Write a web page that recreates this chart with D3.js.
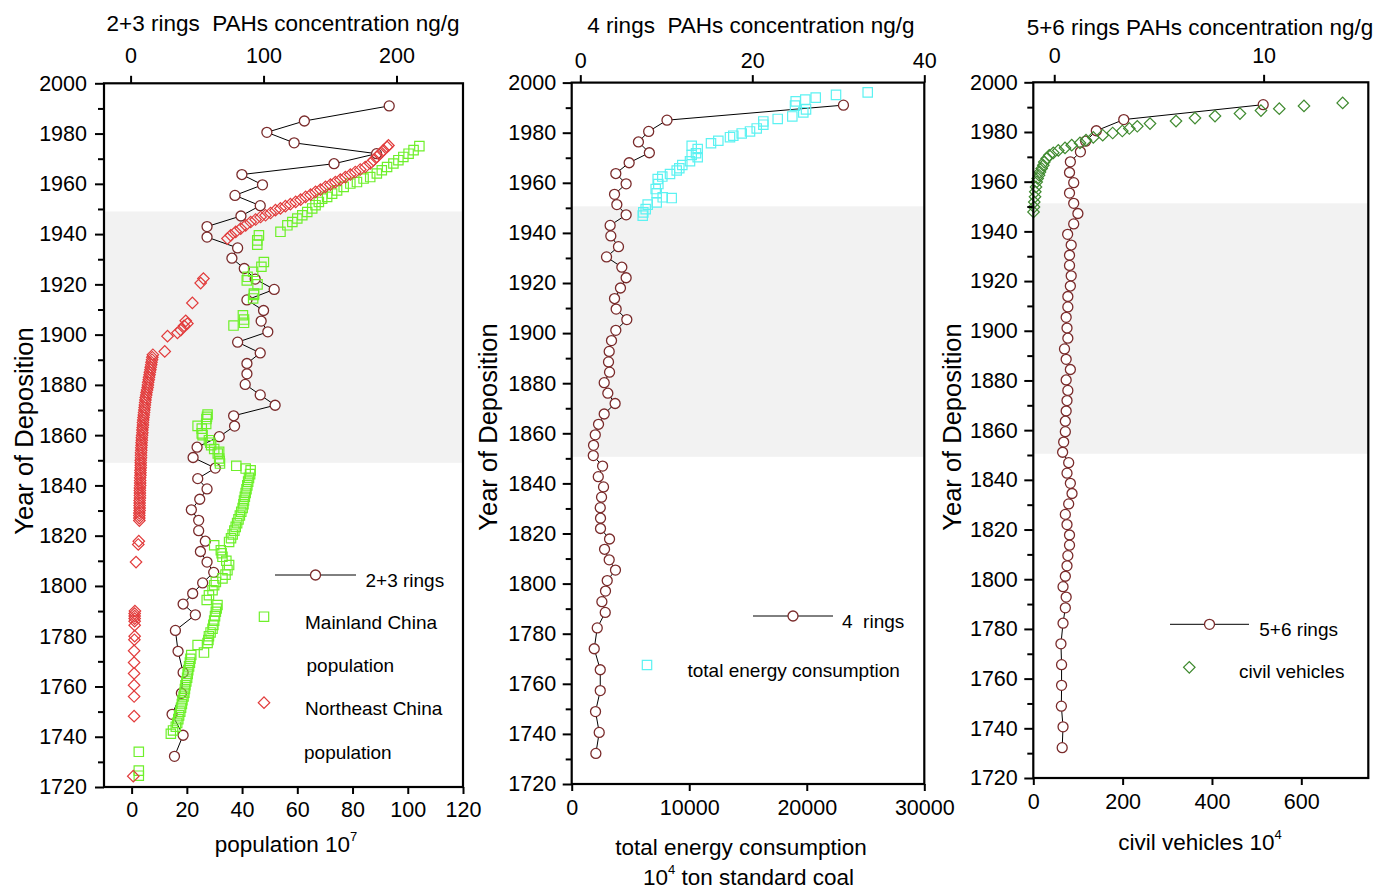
<!DOCTYPE html>
<html>
<head>
  <meta charset="utf-8">
  <title>PAHs profiles</title>
  <script src="https://d3js.org/d3.v7.min.js"></script>
  <style>
    body { margin: 0; background: #fff; }
    text { font-family: 'Liberation Sans', Arial, sans-serif; fill: #000; }
  </style>
</head>
<body>
<div id="vis"></div>
<script>
// deposition years of the core slices (same for the three panels)
var years = [1991, 1985, 1980.5, 1976.3, 1972, 1968, 1963.7, 1959.6, 1955.4, 1951.3,
  1947.2, 1943, 1938.8, 1934.5, 1930.4, 1926.3, 1922.1, 1918, 1913.8, 1909.6,
  1905.4, 1901.1, 1897, 1892.7, 1888.5, 1884.4, 1880.2, 1876, 1871.9, 1867.7,
  1863.6, 1859.4, 1855.2, 1851.1, 1846.9, 1842.7, 1838.6, 1834.5, 1830.3, 1826.1,
  1822, 1817.8, 1813.7, 1809.5, 1805.4, 1801.2, 1797, 1792.8, 1788.5, 1782.3,
  1774, 1765.6, 1757.3, 1748.9, 1740.6, 1732.2];

// PAHs concentration ng/g
var rings23 = [194.5, 130.7, 102.5, 123, 185, 153, 83.7, 99.2, 78.5, 97.5,
  83, 57.5, 57.5, 80.5, 76.2, 85.5, 93.7, 108, 87.5, 100,
  98.2, 103.2, 80.5, 97.5, 87.5, 87.5, 86.2, 97.5, 108.7, 77.5,
  78.2, 66.7, 50, 47, 63.7, 50.5, 57.5, 52, 45.7, 51.2,
  51.2, 56.2, 52.5, 57.5, 62.5, 54.2, 46.7, 39.5, 48.7, 33.7,
  35.7, 39.5, 38.2, 31.2, 39.5, 33];
var rings4 = [30.6, 10.08, 7.95, 6.76, 8.03, 5.68, 4.13, 5.33, 3.98, 4.25,
  5.33, 3.47, 3.55, 4.44, 3.05, 4.83, 5.33, 4.67, 3.98, 4.17,
  5.41, 4.13, 3.63, 3.36, 3.28, 3.40, 2.78, 3.2, 4.05, 2.78,
  2.12, 1.74, 1.54, 1.51, 2.59, 2.09, 2.70, 2.47, 2.32, 2.35,
  2.35, 3.40, 2.82, 3.36, 4.09, 3.13, 2.93, 2.51, 2.90, 1.97,
  1.62, 2.32, 2.32, 1.77, 2.20, 1.81];
var rings56 = [9.98, 3.32, 2.01, 1.5, 1.25, 0.77, 0.73, 0.93, 0.73, 0.93,
  1.13, 0.93, 0.64, 0.81, 0.73, 0.73, 0.81, 0.77, 0.65, 0.65,
  0.57, 0.61, 0.65, 0.49, 0.57, 0.77, 0.57, 0.65, 0.61, 0.57,
  0.53, 0.53, 0.45, 0.40, 0.69, 0.61, 0.77, 0.85, 0.69, 0.53,
  0.61, 0.73, 0.73, 0.65, 0.61, 0.53, 0.42, 0.57, 0.53, 0.42,
  0.32, 0.35, 0.35, 0.34, 0.42, 0.38];

// [year, population 10^7]
var mainlandPop = [[1724.5,2.6],[1726.5,2.6],[1734,2.6],
  [1741.2,14.2],[1742.5,15.0],[1744,16.0],[1745.5,16.5],[1747,16.9],[1748.5,17.2],[1750,17.6],
  [1751.5,17.9],[1753,18.2],[1754.5,18.4],[1756,18.8],[1757.5,19.1],[1759,19.3],[1760.5,19.5],
  [1762,19.8],[1763.5,20.1],[1765,20.3],[1766.5,20.5],[1768,20.8],[1769.5,21.1],[1771,21.3],[1772.5,21.6],
  [1773.5,26.2],[1776.5,23.9],[1777.3,27.5],[1778.5,27.8],[1780,28.0],[1781.5,28.6],[1783,29.3],
  [1784.5,29.6],[1786.2,29.9],[1788,30.2],[1789.7,30.5],[1791,30.8],[1792.4,31.1],
  [1794.4,27.2],[1796.3,28.0],[1798.3,29.3],[1800.3,29.9],[1801.6,30.5],[1803,32.9],[1804.5,34.0],
  [1806.3,34.7],[1808.3,35.3],[1810,34.3],[1811.6,32.9],[1813,32.6],[1814.2,32.3],[1816.2,29.9],
  [1817.5,35.3],[1819,36.0],[1820.5,36.6],[1822,37.2],[1823.5,37.7],[1825,38.2],[1826.5,38.7],
  [1828,39.2],[1829.5,39.7],[1831,40.2],[1832.5,40.5],[1834,40.7],[1835.5,41.0],[1837,41.3],
  [1838.5,41.6],[1840,41.9],[1841.5,42.2],[1843,42.5],[1844.5,42.9],[1846,43.1],[1846.7,41.3],[1847.8,37.9],
  [1848.7,32.0],[1849.7,31.9],[1850.7,31.7],[1852.7,31.2],[1853.4,31.7],[1854.5,29.9],[1856,28.8],
  [1857,28.5],[1858,28.0],[1860,25.7],[1860.7,25.4],[1862.6,25.4],[1863.7,23.9],[1864.5,27.0],
  [1866.4,27.1],[1867.3,27.3],[1868.2,27.5],
  [1903.6,36.9],[1904.7,40.7],[1906,40.7],[1907.7,40.3],[1914.4,44.0],[1915.8,44.3],[1916.3,44.3],
  [1920,45.6],[1921.6,41.7],[1923,42.0],[1925,44.0],[1927,47.0],[1928.9,47.9],[1935.8,45.5],
  [1937.5,45.5],[1939.5,46.1],
  [1940.9,53.9],[1943.5,56.4],[1944.8,58.2],[1946.2,60],[1947.5,61.8],[1948.8,63.6],[1950.2,65.4],
  [1951.5,66.6],[1952.8,67.8],[1954.1,69],[1954.8,70.8],[1956.1,72.6],[1957.4,74.4],[1958.8,76.8],
  [1960.1,79.2],[1960.7,81.6],[1962.1,84],[1962.7,86.4],[1964.1,88.8],[1965.4,90.6],[1966.7,92.5],
  [1968.1,94.8],[1969.4,96.6],[1970.7,98.4],[1972,100.3],[1973.4,102.1],[1975,104.2]];

var northeastPop = [[1724.3,0.6],[1748.2,0.9],[1756,0.9],[1760.5,0.9],[1765.2,0.9],[1769.5,0.9],
  [1774.2,0.9],[1778.6,1.0],[1780,1.1],[1784.4,1.1],[1786,1.1],[1787,1.1],[1788,1.1],[1789,1.1],
  [1790,1.2],[1809.5,1.6],[1816.5,2.4],[1817.8,2.6],
  [1826,2.8],[1827,2.8],[1828,2.8],[1829,2.8],[1830,2.9],[1831,2.9],[1832,2.9],[1833,2.9],[1834,2.9],
  [1835,3.0],[1836,3.0],[1837,3.0],[1838,3.0],[1839,3.0],[1840,3.1],[1841,3.1],[1842,3.1],[1843,3.1],
  [1844,3.2],[1845,3.2],[1846,3.2],[1847,3.3],[1848,3.3],[1849,3.3],[1850,3.3],[1851,3.4],[1852,3.4],
  [1853,3.4],[1854,3.5],[1855,3.5],[1856,3.6],[1857,3.6],[1858,3.7],[1859,3.7],[1860,3.8],[1861,3.9],
  [1862,3.9],[1863,4.0],[1864,4.1],[1865,4.1],[1866,4.2],[1867,4.3],[1868,4.4],[1869,4.5],[1870,4.6],
  [1871,4.7],[1872,4.8],[1873,4.9],[1874,5.0],[1875,5.1],[1876,5.3],[1877,5.4],[1878,5.6],[1879,5.8],
  [1880,5.9],[1881,6.0],[1882,6.2],[1883,6.3],[1884,6.5],[1885,6.6],[1886,6.8],[1887,6.9],[1888,7.1],
  [1889,7.2],[1890,7.4],[1891,7.5],[1892,7.7],
  [1893.3,12.0],[1899.4,13.0],[1900.7,16.6],[1901.8,17.8],[1903.5,19.0],[1904.4,20.2],[1905.5,19.6],
  [1912.6,22.0],[1920.5,25.0],[1922.3,26.0],
  [1938.2,34.7],[1939.5,35.9],[1940.9,37.7],[1942.2,39.5],[1943.5,41.3],[1944.8,43.1],[1945.8,44.9],
  [1946.8,46.7],[1947.5,48.5],[1948.4,50.3],[1949.5,52.1],[1950.2,53.9],[1951.1,55.7],[1951.9,57.5],
  [1952.8,59.4],[1953.7,61.2],[1954.8,63],[1955.7,64.8],[1956.8,66.6],[1957.7,68.4],[1958.8,70.2],
  [1959.7,72],[1960.7,73.8],[1961.7,75.6],[1962.7,77.4],[1963.7,79.2],[1964.7,81],[1965.7,82.8],
  [1966.7,84.6],[1968.1,86.4],[1969.4,87.6],[1970.7,88.8],[1972,90],[1973.4,91.2],[1974.7,92.5],[1975.3,93]];

// [year, total energy consumption 10^4 t standard coal]
var energy = [[1996.1,25185],[1995.1,22488],[1994,20761],[1993.2,19876],[1992.5,19059],[1990.8,19000],
  [1989.3,19936],[1988.1,19706],[1986.5,18770],[1985.5,17528],[1984.5,16303],[1983.2,16303],
  [1981.7,15741],[1980.5,15170],[1979.7,14464],[1978.8,13750],[1978.2,13469],[1976.8,12474],
  [1975.8,11852],[1974.8,10210],[1973.5,10720],[1971.8,10576],[1971.1,10210],[1970.2,10720],
  [1968.6,10065],[1967.1,9410],[1965.8,9155],[1964.9,8934],[1963.5,8364],[1962.5,7709],[1961.5,7317],
  [1959.5,7373],[1957.5,7147],[1955.8,7232],[1954.2,7743],[1953.9,8508],[1952.2,7232],[1951.3,6466],
  [1949.5,6296],[1948.2,6093],[1946.9,6041]];

// [year, civil vehicles 10^4]
var vehicles = [[1991.7,692.6],[1990.5,606],[1989.4,550.7],[1988.6,509.7],[1987.4,462.7],[1986.4,406.8],
  [1985.6,362],[1984.4,319.5],[1983.4,261.3],[1982.3,232.8],[1981.4,215],[1980.4,199.3],[1979.6,177.7],
  [1978.7,155.4],[1977.8,134.3],[1976.7,118],[1975.6,104.5],[1974.7,86],[1973.6,71],[1972.6,56],
  [1971.6,44.8],[1970.6,35.8],[1969.3,30],[1967.9,24.6],[1966.6,22.4],[1965.3,18.8],[1963.9,15],
  [1962.6,12.8],[1961.3,9.8],[1959.9,7.6],[1957.9,6],[1955.9,4.5],[1953.9,3.8],[1951.8,2.2],
  [1949.8,1.6],[1947.8,0.5]];

var yearTicks = [1720, 1740, 1760, 1780, 1800, 1820, 1840, 1860, 1880, 1900, 1920, 1940, 1960, 1980, 2000];
var yearMinor = [1730, 1750, 1770, 1790, 1810, 1830, 1850, 1870, 1890, 1910, 1930, 1950, 1970, 1990];
var popTicks = [0, 20, 40, 60, 80, 100, 120];
var energyTicks = [0, 10000, 20000, 30000];
var vehicleTicks = [0, 200, 400, 600];

var svg = d3.select("#vis").append("svg")
  .attr("width", 1378)
  .attr("height", 889);

var circleCol = "#7a2b2b";

function square(sel, size) {
  return sel.attr("d", d3.symbol().type(d3.symbolSquare).size(size));
}

function panel(c) {
  var g = svg.append("g");
  var y = d3.scaleLinear().domain([1720, 2000]).range([c.B, c.T]);
  var xb = d3.scaleLinear().domain(c.bottomDomain).range([c.L, c.R]);
  var xt = d3.scaleLinear().domain(c.topDomain).range([c.L, c.R]);

  // shaded period
  g.append("rect")
    .attr("x", c.L).attr("width", c.R - c.L)
    .attr("y", y(c.band[1])).attr("height", y(c.band[0]) - y(c.band[1]))
    .attr("fill", "#f2f2f2");

  // PAHs profile
  var pts = years.map(function(yr, i) { return {yr: yr, v: c.conc[i]}; });
  g.append("path").datum(pts)
    .attr("fill", "none").attr("stroke", "#000").attr("stroke-width", 1)
    .attr("d", d3.line().x(function(d) { return xt(d.v); }).y(function(d) { return y(d.yr); }));
  g.selectAll("circle.pah").data(pts).enter().append("circle")
    .attr("class", "pah")
    .attr("cx", function(d) { return xt(d.v); })
    .attr("cy", function(d) { return y(d.yr); })
    .attr("r", 5)
    .attr("fill", "#fff").attr("stroke", circleCol).attr("stroke-width", 1.3);

  // other series on the bottom axis
  c.series.forEach(function(s) {
    g.selectAll(null).data(s.data).enter().append("path")
      .call(square, s.size)
      .attr("transform", function(d) {
        return "translate(" + xb(d[1]) + "," + y(d[0]) + ")" + (s.diamond ? " rotate(45)" : "");
      })
      .attr("fill", "none").attr("stroke", s.color).attr("stroke-width", 1.2);
  });

  // frame
  g.append("rect")
    .attr("x", c.L).attr("y", c.T).attr("width", c.R - c.L).attr("height", c.B - c.T)
    .attr("fill", "none").attr("stroke", "#000").attr("stroke-width", 2.2);

  // axes
  g.append("g").attr("transform", "translate(" + c.L + ",0)")
    .call(d3.axisLeft(y).tickValues(yearTicks).tickSize(9).tickPadding(c.leftPad).tickFormat(d3.format("d")));
  g.append("g").attr("transform", "translate(" + c.L + ",0)")
    .call(d3.axisLeft(y).tickValues(yearMinor).tickSize(6).tickFormat(""));
  g.append("g").attr("transform", "translate(0," + c.T + ")")
    .call(d3.axisTop(xt).tickValues(c.topTicks).tickSize(7.5).tickPadding(c.topPad).tickFormat(d3.format("d")));
  var bottom = g.append("g").attr("transform", "translate(0," + c.B + ")")
    .call(d3.axisBottom(xb).tickValues(c.bottomTicks).tickSize(7).tickFormat(d3.format("d")));
  bottom.selectAll("text").attr("dy", null).attr("y", c.bottomLab);

  g.selectAll(".domain").remove();
  g.selectAll(".tick line").attr("stroke", "#000").attr("stroke-width", 2);
  g.selectAll(".tick text").attr("font-size", 21.5).attr("fill", "#000")
    .attr("font-family", "'Liberation Sans', Arial, sans-serif");

  // titles
  g.append("text").attr("x", c.titleX).attr("y", c.titleY)
    .attr("text-anchor", "middle").attr("font-size", 22.5)
    .style("white-space", "pre").text(c.title);
  g.append("text")
    .attr("transform", "translate(" + c.yTitleX + "," + c.yTitleY + ") rotate(-90)")
    .attr("text-anchor", "middle").attr("font-size", 25.5)
    .text("Year of Deposition");
  c.xTitle.forEach(function(line) {
    var t = g.append("text").attr("x", line.x).attr("y", line.y)
      .attr("text-anchor", "middle").attr("font-size", 22.5);
    t.append("tspan").text(line.text);
    if (line.sup) {
      t.append("tspan").attr("font-size", 13).attr("dy", -11).text(line.sup);
    }
    if (line.rest) {
      t.append("tspan").attr("dy", 11).text(line.rest);
    }
  });

  // legend
  var lg = g.append("g");
  lg.append("line").attr("x1", c.leg.x1).attr("x2", c.leg.x2)
    .attr("y1", c.leg.y).attr("y2", c.leg.y)
    .attr("stroke", "#000").attr("stroke-width", 1);
  lg.append("circle").attr("cx", (c.leg.x1 + c.leg.x2) / 2).attr("cy", c.leg.y).attr("r", 5)
    .attr("fill", "#fff").attr("stroke", circleCol).attr("stroke-width", 1.3);
  lg.append("text").attr("x", c.leg.tx).attr("y", c.leg.ty)
    .attr("font-size", 19).style("white-space", "pre").text(c.leg.label);
  c.series.forEach(function(s) {
    lg.append("path").call(square, s.size)
      .attr("transform", "translate(" + s.leg.x + "," + s.leg.y + ")" + (s.diamond ? " rotate(45)" : ""))
      .attr("fill", "none").attr("stroke", s.color).attr("stroke-width", 1.2);
    s.leg.lines.forEach(function(l) {
      lg.append("text").attr("x", l[0]).attr("y", l[1]).attr("font-size", 19).text(l[2]);
    });
  });
}

panel({
  L: 104, R: 463, T: 83.3, B: 787,
  bottomDomain: [-10, 120], topDomain: [-20, 250],
  bottomTicks: popTicks, topTicks: [0, 100, 200],
  band: [1849, 1949],
  conc: rings23,
  leftPad: 8, topPad: 12.5, bottomLab: 30,
  title: "2+3 rings  PAHs concentration ng/g", titleX: 283, titleY: 31,
  yTitleX: 33, yTitleY: 431,
  xTitle: [{x: 286, y: 852, text: "population 10", sup: "7"}],
  series: [
    {data: mainlandPop, color: "#6ef02a", size: 88, diamond: false,
     leg: {x: 264, y: 616.7, lines: [[305, 629, "Mainland China"], [306.5, 672, "population"]]}},
    {data: northeastPop, color: "#e23b3b", size: 66, diamond: true,
     leg: {x: 264, y: 702.7, lines: [[305, 715, "Northeast China"], [304, 758.5, "population"]]}}
  ],
  leg: {x1: 275, x2: 356, y: 575, tx: 365.5, ty: 586.5, label: "2+3 rings"}
});

panel({
  L: 571.7, R: 924.3, T: 82.6, B: 784,
  bottomDomain: [0, 30000], topDomain: [-1, 40],
  bottomTicks: energyTicks, topTicks: [0, 20, 40],
  band: [1850.6, 1950.6],
  conc: rings4,
  leftPad: 6.5, topPad: 7, bottomLab: 31,
  title: "4 rings  PAHs concentration ng/g", titleX: 751, titleY: 33,
  yTitleX: 497, yTitleY: 427,
  xTitle: [{x: 741, y: 855, text: "total energy consumption"},
           {x: 748.5, y: 885, text: "10", sup: "4", rest: " ton standard coal"}],
  series: [
    {data: energy, color: "#5cf2f2", size: 88, diamond: false,
     leg: {x: 647, y: 665, lines: [[687.5, 676.5, "total energy consumption"]]}}
  ],
  leg: {x1: 753, x2: 833, y: 616, tx: 842, ty: 628.3, label: "4  rings"}
});

panel({
  L: 1033.3, R: 1368.3, T: 82.3, B: 778,
  bottomDomain: [0, 750], topDomain: [-1, 15],
  bottomTicks: vehicleTicks, topTicks: [0, 10],
  band: [1850.5, 1951.3],
  conc: rings56,
  leftPad: 6.5, topPad: 12, bottomLab: 31,
  title: "5+6 rings PAHs concentration ng/g", titleX: 1200, titleY: 35,
  yTitleX: 961, yTitleY: 427,
  xTitle: [{x: 1200, y: 850, text: "civil vehicles 10", sup: "4"}],
  series: [
    {data: vehicles, color: "#3f8a2f", size: 66, diamond: true,
     leg: {x: 1189.3, y: 667.3, lines: [[1239, 678.3, "civil vehicles"]]}}
  ],
  leg: {x1: 1170, x2: 1249, y: 624.3, tx: 1259.3, ty: 636, label: "5+6 rings"}
});
</script>
</body>
</html>
